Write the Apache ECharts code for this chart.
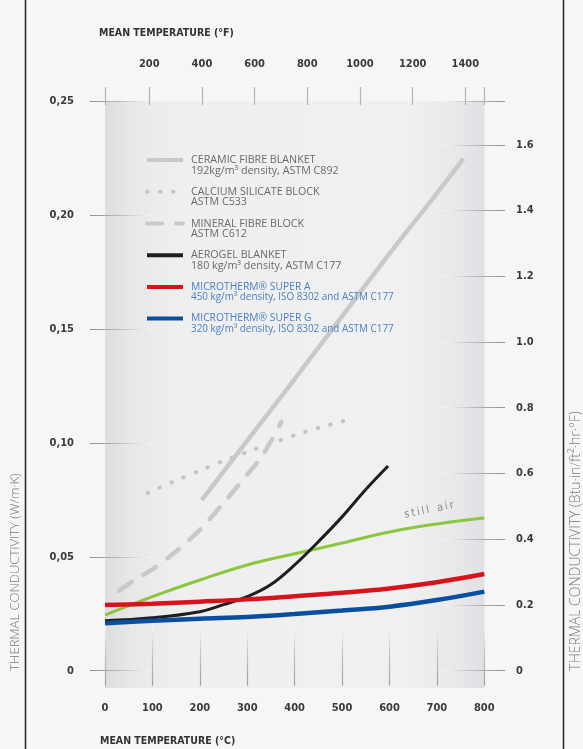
<!DOCTYPE html>
<html><head><meta charset="utf-8">
<script src="https://cdn.jsdelivr.net/npm/echarts@6/dist/echarts.min.js"></script>
<style>html,body{margin:0;padding:0;background:#f6f6f6}#c{width:583px;height:749px}</style>
</head><body><div id="c"></div>
<script>
// ---- data ----
const tickC = [0, 100, 200, 300, 400, 500, 600, 700, 800];
const tickF = [200, 400, 600, 800, 1000, 1200, 1400];
const tickK = [0, 0.05, 0.10, 0.15, 0.20, 0.25];
const tickB = [0, 0.2, 0.4, 0.6, 0.8, 1.0, 1.2, 1.4, 1.6];

const ceramicT = [204, 300, 400, 500, 600, 700, 756];
const ceramicK = [0.0749, 0.1010, 0.1280, 0.1555, 0.1830, 0.2095, 0.2247];
const calsilT = [90, 150, 200, 250, 300, 350, 400, 450, 520];
const calsilK = [0.0780, 0.0835, 0.0878, 0.0921, 0.0960, 0.0997, 0.1033, 0.1065, 0.1105];
const mineralT = [30, 60, 100, 150, 200, 250, 300, 325, 350, 372];
const mineralK = [0.0351, 0.0395, 0.0445, 0.0524, 0.0618, 0.0736, 0.0861, 0.0924, 0.1006, 0.1092];
const aerogelT = [0, 100, 200, 250, 300, 350, 400, 450, 500, 550, 597];
const aerogelK = [0.0219, 0.0232, 0.0259, 0.0290, 0.0325, 0.0378, 0.0464, 0.0566, 0.0675, 0.0795, 0.0898];
const superT = [0, 100, 200, 300, 400, 500, 600, 700, 800];
const superAK = [0.0288, 0.0294, 0.0303, 0.0313, 0.0327, 0.0342, 0.0361, 0.0388, 0.0424];
const superGK = [0.0208, 0.0219, 0.0228, 0.0236, 0.0249, 0.0264, 0.0281, 0.0310, 0.0347];
const airK = [0.0244, 0.0325, 0.0398, 0.0464, 0.0513, 0.0560, 0.0609, 0.0644, 0.0670];

const names = ['CERAMIC FIBRE BLANKET', 'CALCIUM SILICATE BLOCK', 'MINERAL FIBRE BLOCK',
  'AEROGEL BLANKET', 'MICROTHERM® SUPER A', 'MICROTHERM® SUPER G'];
const subs = ['192kg/m³ density, ASTM C892', 'ASTM C533', 'ASTM C612',
  '180 kg/m³ density, ASTM C177', '450 kg/m³ density, ISO 8302 and ASTM C177',
  '320 kg/m³ density, ISO 8302 and ASTM C177'];
// -------------

const W_TO_B = 6.933;
const CF = c => c * 1.8 + 32;
const zip = (a, b) => a.map((v, i) => [v, b[i]]);

const chart = echarts.init(document.getElementById('c'), null, {renderer: 'canvas'});
const G = echarts.graphic.LinearGradient;
const numFont = "'DejaVu Sans Condensed','Liberation Sans Narrow','DejaVu Sans',sans-serif";
const lightFont = "'Open Sans','DejaVu Sans',sans-serif";
const lblStyle = {fontFamily: numFont, fontWeight: 'bold', fontSize: 11, color: '#3a3a3a'};

const gL = 105, gR = 484.3, gT = 101, gB = 670.7;

const option = {
  backgroundColor: '#f6f6f6',
  animation: false,
  title: [
    {text: 'MEAN TEMPERATURE (°F)', left: 94, top: 23, textStyle: {fontFamily: numFont, fontWeight: 'bold', fontSize: 10.5, color: '#333'}},
    {text: 'MEAN TEMPERATURE (°C)', left: 95, top: 731, textStyle: {fontFamily: numFont, fontWeight: 'bold', fontSize: 10.5, color: '#333'}}
  ],
  grid: {left: gL, right: 583 - gR, top: gT, bottom: 749 - gB},
  graphic: [
    {type: 'rect', z: -10, shape: {x: gL, y: gT, width: gR - gL, height: 688 - gT},
      style: {fill: new G(0, 0, 1, 0, [
        {offset: 0, color: '#dcdde0'}, {offset: 0.07, color: '#e8e8ea'}, {offset: 0.2, color: '#efefef'},
        {offset: 0.8, color: '#f0f0f0'}, {offset: 0.92, color: '#e9e9eb'}, {offset: 1, color: '#dfe0e3'}])}},
    {type: 'line', shape: {x1: 25.5, y1: 0, x2: 25.5, y2: 749}, style: {stroke: '#222', lineWidth: 1.5}},
    {type: 'line', shape: {x1: 563.5, y1: 0, x2: 563.5, y2: 749}, style: {stroke: '#222', lineWidth: 1.5}},
    {type: 'text', x: 15, y: gB, rotation: Math.PI / 2,
      style: {text: 'THERMAL CONDUCTIVITY (W/m·K)', font: "300 13px 'Open Sans','DejaVu Sans',sans-serif", fill: '#7a7a7a', align: 'left', verticalAlign: 'middle'}},
    {type: 'text', x: 576.5, y: gB, rotation: Math.PI / 2,
      style: {text: 'THERMAL CONDUCTIVITY (Btu·in/ft²·hr·°F)', font: "300 14px 'Open Sans','DejaVu Sans',sans-serif", fill: '#7a7a7a', align: 'left', verticalAlign: 'middle'}},
    {type: 'text', x: 429, y: 510, rotation: 0.2,
      style: {text: 's\u2009t\u2009i\u2009l\u2009l\u2002 a\u2009i\u2009r', font: "11px 'DejaVu Sans Condensed','DejaVu Sans',sans-serif", fill: '#8a8a8a', align: 'center', verticalAlign: 'middle'}}
  ],
  legend: {
    left: 140, top: 139.25, orient: 'vertical', itemGap: 0, itemWidth: 36, itemHeight: 10,
    selectedMode: false, data: names,
    itemStyle: {color: 'rgba(0,0,0,0)', borderWidth: 0, opacity: 0},
    lineStyle: {width: 4},
    textStyle: {fontFamily: lightFont, fontSize: 10.5, lineHeight: 10.5, color: '#6d6d6d',
      rich: {
        e: {fontSize: 9, lineHeight: 10.5},
        n: {fontFamily: lightFont, fontSize: 10.7, lineHeight: 10.5, color: '#6a6a6a', padding: [0, 0, 0, 3]},
        d: {fontFamily: lightFont, fontSize: 10.7, lineHeight: 10.5, color: '#6a6a6a', padding: [0, 0, 0, 3]},
        N: {fontFamily: lightFont, fontSize: 10.3, lineHeight: 10.5, color: '#4a80c4', padding: [0, 0, 0, 3]},
        D: {fontFamily: lightFont, fontSize: 9.9, lineHeight: 10.5, color: '#4a80c4', padding: [0, 0, 0, 3]}
      }},
    formatter: function (name) {
      const i = names.indexOf(name);
      const blue = i >= 4;
      return '{e| }\n{' + (blue ? 'N' : 'n') + '|' + name + '}\n{' + (blue ? 'D' : 'd') + '|' + subs[i] + '}';
    }
  },
  xAxis: [
    {type: 'value', position: 'bottom', min: 0, max: 800, interval: 100, offset: -48,
      axisLine: {show: false, onZero: false}, splitLine: {show: false},
      axisTick: {show: true, length: 63, lineStyle: {width: 1.2, color: new G(0, 0, 0, 1, [
        {offset: 0, color: 'rgba(255,255,255,0.9)'}, {offset: 0.5, color: '#c4c4c6'}, {offset: 1, color: '#9a9a9c'}])}},
      axisLabel: {margin: 80, ...lblStyle}},
    {type: 'value', position: 'top', min: CF(0), max: CF(800), offset: -4,
      axisLine: {show: false, onZero: false}, splitLine: {show: false},
      axisTick: {show: true, length: 18, customValues: [CF(0)].concat(tickF, [CF(800)]),
        lineStyle: {width: 1.2, color: '#b4b4b6'}},
      axisLabel: {margin: 35, customValues: tickF, formatter: v => String(v), ...lblStyle}}
  ],
  yAxis: [
    {type: 'value', position: 'left', min: 0, max: 0.25, interval: 0.05, offset: -48,
      axisLine: {show: false, onZero: false}, splitLine: {show: false},
      axisTick: {show: true, length: 63, lineStyle: {width: 1.2, color: new G(0, 0, 1, 0, [
        {offset: 0, color: '#8e8e90'}, {offset: 0.45, color: '#b8b8ba'}, {offset: 1, color: 'rgba(255,255,255,0.9)'}])}},
      axisLabel: {margin: 79, formatter: v => v === 0 ? '0' : v.toFixed(2).replace('.', ','), ...lblStyle}},
    {type: 'value', position: 'right', min: 0, max: 0.25 * W_TO_B, offset: -41.3,
      axisLine: {show: false, onZero: false}, splitLine: {show: false},
      axisTick: {show: true, length: 62, customValues: tickB.concat([0.25 * W_TO_B]),
        lineStyle: {width: 1.2, color: new G(0, 0, 1, 0, [
          {offset: 0, color: 'rgba(255,255,255,0.9)'}, {offset: 0.5, color: '#b8b8ba'}, {offset: 1, color: '#8e8e90'}])}},
      axisLabel: {margin: 73, customValues: tickB, formatter: v => v === 0 ? '0' : v.toFixed(1), ...lblStyle}}
  ],
  series: [
    {name: 'still air', type: 'line', data: zip(superT, airK), symbol: 'none', smooth: 0.4,
      lineStyle: {color: '#8cc63f', width: 3}, z: 3},
    {name: names[0], type: 'line', data: zip(ceramicT, ceramicK), symbol: 'none', smooth: 0.3,
      lineStyle: {color: '#c9c9c9', width: 4.5}, itemStyle: {color: '#c9c9c9'}, z: 2},
    {name: names[1], type: 'line', data: zip(calsilT, calsilK), symbol: 'none', smooth: 0.3,
      lineStyle: {color: '#c4c4c4', width: 4, type: [0.5, 12.5], cap: 'round'}, itemStyle: {color: '#c4c4c4'}, z: 2},
    {name: names[2], type: 'line', data: zip(mineralT, mineralK), symbol: 'none', smooth: 0.3,
      lineStyle: {color: '#c9c9c9', width: 4.5, type: [15, 14], cap: 'round'}, itemStyle: {color: '#c9c9c9'}, z: 2},
    {name: names[3], type: 'line', data: zip(aerogelT, aerogelK), symbol: 'none', smooth: 0.4,
      lineStyle: {color: '#1e1e1e', width: 3}, itemStyle: {color: '#1e1e1e'}, z: 4},
    {name: names[4], type: 'line', data: zip(superT, superAK), symbol: 'none', smooth: 0.4,
      lineStyle: {color: '#d7141e', width: 4.5}, itemStyle: {color: '#d7141e'}, z: 5},
    {name: names[5], type: 'line', data: zip(superT, superGK), symbol: 'none', smooth: 0.4,
      lineStyle: {color: '#0a4f9f', width: 4.5}, itemStyle: {color: '#0a4f9f'}, z: 5}
  ]
};
chart.setOption(option);
</script></body></html>
